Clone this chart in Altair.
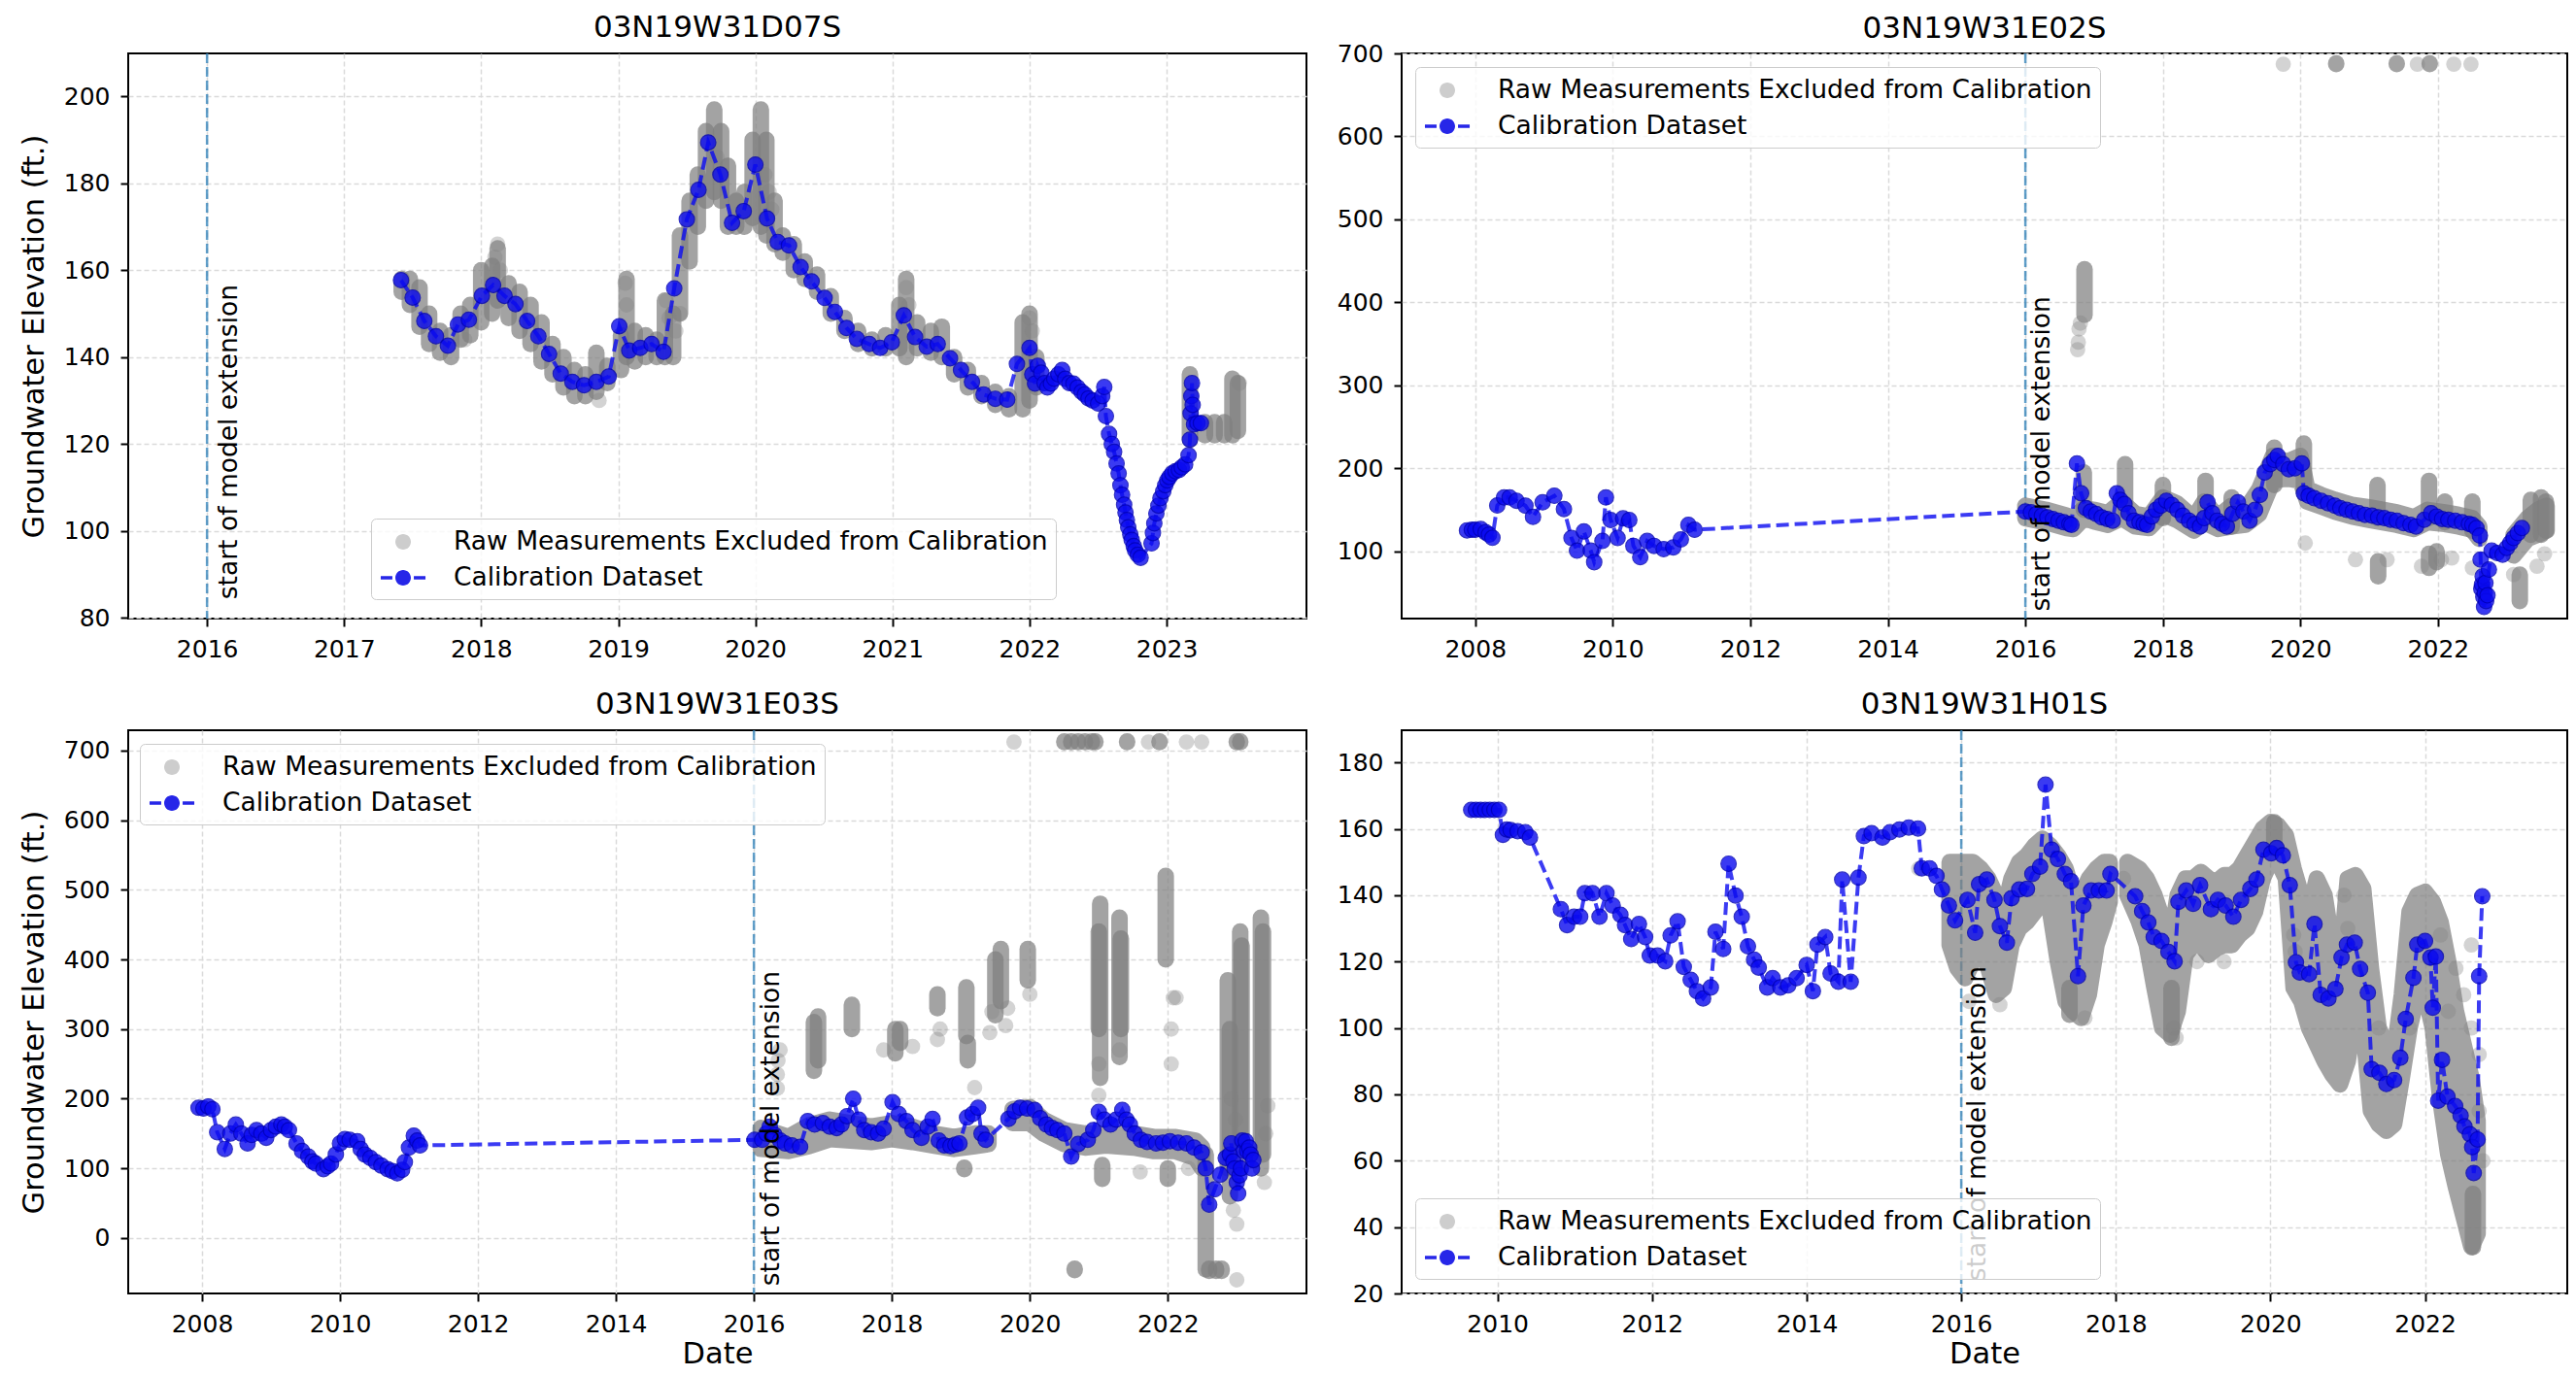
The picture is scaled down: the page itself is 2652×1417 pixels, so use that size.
import altair as alt
import pandas as pd

FONT = "DejaVu Sans"
RAW_LABEL = "Raw Measurements Excluded from Calibration"
CAL_LABEL = "Calibration Dataset"
EXT_TEXT = "start of model extension"
EXT_YEAR = 2016
Y_TITLE = "Groundwater Elevation (ft.)"
X_TITLE = "Date"
TITLES = ["03N19W31D07S", "03N19W31E02S", "03N19W31E03S", "03N19W31H01S"]

# ---------------- Panel 1 : 03N19W31D07S ----------------
P1_CAL = [
    (2017.415, 157.7), (2017.50, 153.7), (2017.585, 148.3), (2017.67, 144.8), (2017.757, 142.6),
    (2017.83, 147.5), (2017.91, 148.6), (2018.005, 154.1), (2018.087, 156.6), (2018.17, 154.1),
    (2018.25, 152.2), (2018.335, 148.3), (2018.417, 144.8), (2018.495, 140.7), (2018.58, 136.2),
    (2018.665, 134.3), (2018.75, 133.5), (2018.84, 134.3), (2018.93, 135.5), (2019.007, 147.1),
    (2019.08, 141.5), (2019.16, 142.1), (2019.243, 143.0), (2019.33, 141.2), (2019.408, 155.8),
    (2019.50, 171.7), (2019.585, 178.5), (2019.656, 189.4), (2019.745, 182.0), (2019.83, 170.9),
    (2019.915, 173.6), (2020.0, 184.3), (2020.085, 171.9), (2020.163, 166.5), (2020.245, 165.7),
    (2020.33, 160.7), (2020.41, 157.4), (2020.505, 153.6), (2020.58, 150.4), (2020.665, 146.7),
    (2020.74, 144.2), (2020.83, 143.0), (2020.91, 142.1), (2020.995, 143.4), (2021.083, 149.6),
    (2021.165, 144.6), (2021.25, 142.4), (2021.33, 143.0), (2021.42, 139.7), (2021.5, 137.0),
    (2021.58, 134.3), (2021.665, 131.4), (2021.75, 130.4), (2021.837, 130.2), (2021.908, 138.4),
    (2022.0, 142.1), (2022.02, 136.0), (2022.04, 133.9), (2022.06, 138.0), (2022.085, 136.4),
    (2022.11, 134.0), (2022.13, 133.0), (2022.156, 133.9), (2022.18, 135.0), (2022.21, 136.0),
    (2022.238, 137.0), (2022.26, 135.0), (2022.29, 134.0), (2022.32, 133.9), (2022.35, 133.0),
    (2022.38, 132.0), (2022.403, 131.4), (2022.43, 130.5), (2022.46, 130.0), (2022.5, 129.3),
    (2022.53, 131.0), (2022.545, 133.1), (2022.557, 126.4), (2022.58, 122.3), (2022.6, 120.0),
    (2022.617, 118.2), (2022.635, 115.5), (2022.65, 113.2), (2022.663, 110.5), (2022.675, 108.3),
    (2022.69, 106.0), (2022.7, 104.2), (2022.71, 102.5), (2022.72, 100.8), (2022.735, 99.2),
    (2022.745, 97.9), (2022.76, 96.5), (2022.77, 95.5), (2022.79, 94.5), (2022.81, 93.8),
    (2022.89, 97.1), (2022.9, 99.5), (2022.91, 101.7), (2022.925, 104.0), (2022.94, 105.8),
    (2022.955, 107.5), (2022.975, 109.1), (2022.99, 110.5), (2023.005, 111.6), (2023.02, 112.4),
    (2023.04, 113.2), (2023.065, 113.7), (2023.09, 114.0), (2023.11, 114.6), (2023.135, 115.3),
    (2023.16, 117.4), (2023.17, 121.0), (2023.175, 127.0), (2023.18, 131.0), (2023.185, 134.0),
    (2023.19, 129.0), (2023.2, 124.5), (2023.225, 124.8), (2023.25, 124.8),
]
P1_RAW_LIGHT = [
    (2018.12, 166), (2018.10, 163), (2018.14, 160), (2019.05, 157), (2019.06, 152), (2019.35, 153),
    (2019.37, 149), (2019.42, 146), (2019.72, 186), (2020.07, 182), (2020.10, 178), (2021.10, 156),
    (2021.12, 152), (2022.00, 149), (2022.02, 146), (2017.88, 144), (2018.86, 130), (2023.53, 134),
    (2019.45, 150), (2020.12, 174),
]
P1_RAW_BANDS = [
    (2017.42, 155, 158), (2017.48, 152, 158), (2017.55, 147, 156), (2017.62, 143, 150), (2017.70, 141, 146),
    (2017.78, 140, 145), (2017.85, 144, 150), (2017.92, 145, 152), (2018.00, 148, 160), (2018.08, 150, 161),
    (2018.12, 153, 165), (2018.20, 149, 157), (2018.28, 146, 155), (2018.36, 143, 152), (2018.44, 139, 148),
    (2018.52, 136, 143), (2018.60, 133, 140), (2018.68, 131, 137), (2018.76, 131, 136), (2018.84, 132, 141),
    (2018.92, 134, 138), (2019.02, 137, 145), (2019.06, 140, 158), (2019.12, 139, 146), (2019.20, 140, 145),
    (2019.28, 140, 144), (2019.34, 140, 153), (2019.40, 140, 150), (2019.45, 150, 168), (2019.52, 162, 176),
    (2019.58, 170, 182), (2019.64, 176, 192), (2019.70, 178, 197), (2019.75, 176, 192), (2019.80, 170, 184),
    (2019.86, 170, 176), (2019.92, 170, 178), (2019.98, 172, 190), (2020.04, 170, 197), (2020.08, 168, 190),
    (2020.14, 166, 176), (2020.20, 164, 168), (2020.28, 160, 166), (2020.36, 158, 162), (2020.45, 155, 159),
    (2020.55, 150, 154), (2020.65, 146, 149), (2020.75, 143, 146), (2020.85, 142, 144), (2020.95, 142, 145),
    (2021.05, 142, 152), (2021.10, 140, 158), (2021.18, 142, 148), (2021.28, 141, 146), (2021.36, 140, 147),
    (2021.45, 136, 140), (2021.55, 133, 137), (2021.65, 131, 134), (2021.75, 129, 132), (2021.85, 128, 131),
    (2021.95, 128, 148), (2022.00, 130, 150), (2022.05, 133, 140), (2023.17, 121, 136), (2023.28, 122, 125),
    (2023.35, 122, 125), (2023.42, 122, 125), (2023.48, 122, 135), (2023.52, 123, 134),
]
P1_RAW_CLOUD = []
P1_XDOM = [2015.425, 2024.02]
P1_YDOM = [79.8, 209.9]
P1_XTICKS = [2016, 2017, 2018, 2019, 2020, 2021, 2022, 2023]
P1_YTICKS = [80, 100, 120, 140, 160, 180, 200]
P1_TEXT_Y = 84

# ---------------- Panel 2 : 03N19W31E02S ----------------
P2_CAL = [
    (2007.88, 125.3), (2007.95, 126.0), (2008.0, 126.0), (2008.08, 126.8), (2008.15, 123.0),
    (2008.2, 120.2), (2008.25, 116.3), (2008.32, 155.3), (2008.42, 165.0), (2008.5, 165.0),
    (2008.6, 161.0), (2008.73, 155.0), (2008.84, 141.6), (2008.98, 159.0), (2009.15, 167.0),
    (2009.29, 151.0), (2009.4, 116.0), (2009.48, 100.8), (2009.58, 124.0), (2009.68, 100.8),
    (2009.73, 87.0), (2009.85, 112.5), (2009.9, 165.0), (2009.97, 137.7), (2010.07, 116.0),
    (2010.15, 139.7), (2010.24, 137.7), (2010.3, 106.6), (2010.4, 93.0), (2010.5, 112.5),
    (2010.6, 106.6), (2010.74, 102.7), (2010.88, 104.7), (2010.99, 114.4), (2011.1, 131.9),
    (2011.19, 126.0),
    (2016.0, 148), (2016.08, 147), (2016.16, 145), (2016.24, 143), (2016.32, 141), (2016.4, 139),
    (2016.48, 137), (2016.56, 135), (2016.64, 133), (2016.67, 132), (2016.75, 206), (2016.81, 170),
    (2016.88, 152), (2016.95, 148), (2017.03, 145), (2017.11, 141), (2017.19, 139), (2017.27, 137),
    (2017.33, 170), (2017.38, 162), (2017.44, 157), (2017.5, 146), (2017.58, 137), (2017.66, 135),
    (2017.72, 133), (2017.77, 132), (2017.84, 142), (2017.9, 150), (2017.97, 155), (2018.05, 161),
    (2018.13, 156), (2018.21, 150), (2018.29, 143), (2018.38, 137), (2018.46, 133), (2018.54, 130),
    (2018.6, 140), (2018.65, 159), (2018.72, 146), (2018.79, 137), (2018.86, 133), (2018.93, 130),
    (2019.01, 145), (2019.09, 159), (2019.17, 148), (2019.26, 137), (2019.34, 150), (2019.41, 168),
    (2019.48, 195), (2019.56, 205), (2019.62, 210), (2019.67, 215), (2019.75, 205), (2019.83, 199),
    (2019.92, 200), (2020.02, 206), (2020.05, 170), (2020.12, 167), (2020.2, 164), (2020.3, 161),
    (2020.4, 158), (2020.5, 155), (2020.58, 152), (2020.67, 150), (2020.76, 148), (2020.85, 146),
    (2020.94, 144), (2021.04, 143), (2021.13, 141), (2021.22, 140), (2021.31, 138), (2021.4, 137),
    (2021.5, 134), (2021.6, 132), (2021.68, 130), (2021.8, 138), (2021.9, 146), (2021.98, 142),
    (2022.06, 139), (2022.15, 138), (2022.25, 137), (2022.35, 135), (2022.45, 133), (2022.5, 132),
    (2022.56, 128), (2022.61, 119), (2022.62, 90), (2022.63, 55), (2022.64, 60), (2022.65, 70),
    (2022.66, 45), (2022.67, 33), (2022.68, 50), (2022.69, 62), (2022.7, 40), (2022.72, 47),
    (2022.74, 78), (2022.78, 101), (2022.86, 98), (2022.94, 96), (2023.0, 104), (2023.05, 110),
    (2023.1, 116), (2023.16, 122), (2023.22, 128),
]
P2_RAW_LIGHT = [
    (2019.75, 687), (2021.70, 687), (2022.23, 687), (2022.48, 687), (2020.07, 110), (2020.80, 90),
    (2021.26, 90), (2022.20, 92), (2022.50, 80), (2023.10, 72), (2023.44, 82), (2023.55, 97),
    (2016.76, 343), (2016.77, 352), (2016.78, 368), (2016.80, 375), (2021.76, 82), (2022.05, 90),
]
P2_RAW_BANDS = [
    (2016.86, 385, 440), (2016.85, 150, 195), (2017.45, 150, 205), (2018.00, 140, 180), (2018.62, 140, 185),
    (2019.00, 130, 165), (2019.62, 180, 225), (2020.05, 175, 230), (2021.12, 140, 180), (2021.87, 140, 185),
    (2022.10, 135, 160), (2022.50, 125, 160), (2023.35, 120, 162), (2023.50, 120, 165), (2023.57, 125, 160),
    (2021.13, 70, 88), (2021.87, 80, 97), (2021.98, 87, 100), (2023.19, 40, 72),
    (2020.52, 687, 688), (2021.40, 687, 688), (2021.88, 687, 688),
]
P2_RAW_CLOUD = [
    (0, 2016.00, 140, 155), (0, 2016.30, 135, 150), (0, 2016.60, 128, 143), (0, 2016.70, 127, 140),
    (0, 2016.85, 140, 152), (0, 2017.00, 136, 150), (0, 2017.20, 132, 146), (0, 2017.40, 140, 160),
    (0, 2017.60, 130, 145), (0, 2017.80, 128, 142), (0, 2018.00, 145, 165), (0, 2018.20, 138, 158),
    (0, 2018.45, 125, 140), (0, 2018.60, 135, 160), (0, 2018.80, 127, 142), (0, 2019.00, 130, 155),
    (0, 2019.20, 132, 150), (0, 2019.40, 145, 175), (0, 2019.60, 185, 215), (0, 2019.80, 188, 208),
    (0, 2020.00, 185, 215), (0, 2020.10, 160, 175), (0, 2020.30, 154, 168), (0, 2020.50, 148, 162),
    (0, 2020.75, 142, 156), (0, 2021.00, 138, 153), (0, 2021.40, 132, 147), (0, 2021.65, 127, 141),
    (0, 2021.85, 135, 150), (0, 2022.10, 133, 147), (0, 2022.30, 130, 144), (0, 2022.50, 126, 140),
    (0, 2022.60, 115, 130),
    (1, 2023.10, 95, 120), (1, 2023.30, 115, 140), (1, 2023.45, 120, 150), (1, 2023.58, 125, 155),
]
P2_XDOM = [2006.93, 2023.88]
P2_YDOM = [19, 700]
P2_XTICKS = [2008, 2010, 2012, 2014, 2016, 2018, 2020, 2022]
P2_YTICKS = [100, 200, 300, 400, 500, 600, 700]
P2_TEXT_Y = 22

# ---------------- Panel 3 : 03N19W31E03S ----------------
P3_CAL = [
    (2007.95, 187), (2008.02, 186), (2008.09, 189), (2008.15, 185), (2008.22, 152), (2008.33, 128),
    (2008.41, 150), (2008.49, 163), (2008.57, 150), (2008.66, 136), (2008.72, 148), (2008.79, 155),
    (2008.86, 150), (2008.93, 144), (2009.0, 155), (2009.07, 160), (2009.15, 163), (2009.2, 160),
    (2009.26, 155), (2009.37, 136), (2009.45, 125), (2009.54, 117), (2009.6, 110), (2009.65, 107),
    (2009.76, 99), (2009.82, 103), (2009.87, 107), (2009.94, 120), (2010.0, 136), (2010.07, 142),
    (2010.14, 141), (2010.25, 139), (2010.3, 128), (2010.36, 120), (2010.44, 115), (2010.52, 109),
    (2010.6, 104), (2010.69, 99), (2010.76, 96), (2010.83, 93), (2010.9, 98), (2010.94, 109),
    (2011.0, 130), (2011.07, 147), (2011.12, 140), (2011.16, 133),
    (2016.01, 141), (2016.12, 141), (2016.18, 150), (2016.23, 160), (2016.3, 148), (2016.38, 140),
    (2016.45, 136), (2016.55, 133), (2016.67, 131), (2016.78, 168), (2016.88, 163), (2017.0, 165),
    (2017.1, 160), (2017.2, 158), (2017.27, 163), (2017.35, 175), (2017.44, 200), (2017.52, 170),
    (2017.6, 155), (2017.7, 152), (2017.8, 150), (2017.88, 157), (2018.01, 195), (2018.1, 178),
    (2018.21, 168), (2018.3, 155), (2018.43, 144), (2018.52, 160), (2018.59, 171), (2018.68, 140),
    (2018.76, 133), (2018.85, 132), (2018.92, 134), (2018.98, 136), (2019.09, 173), (2019.17, 178),
    (2019.25, 187), (2019.3, 150), (2019.36, 141), (2019.69, 171), (2019.78, 182), (2019.86, 187),
    (2019.96, 186), (2020.07, 184), (2020.15, 172), (2020.24, 163), (2020.32, 158), (2020.4, 155),
    (2020.5, 150), (2020.6, 117), (2020.7, 135), (2020.84, 141), (2020.92, 155), (2021.0, 181),
    (2021.08, 170), (2021.17, 163), (2021.25, 170), (2021.34, 184), (2021.4, 170), (2021.45, 163),
    (2021.52, 150), (2021.61, 141), (2021.7, 138), (2021.83, 136), (2021.93, 137), (2022.03, 139),
    (2022.15, 137), (2022.27, 136), (2022.38, 130), (2022.49, 123), (2022.55, 100), (2022.6, 48),
    (2022.68, 70), (2022.76, 91), (2022.84, 115), (2022.9, 120), (2022.92, 136), (2022.95, 110),
    (2022.97, 100), (2023.0, 80), (2023.02, 64), (2023.04, 90), (2023.06, 100), (2023.08, 140),
    (2023.1, 125), (2023.13, 139), (2023.15, 125), (2023.18, 130), (2023.2, 120), (2023.22, 100),
    (2023.24, 112),
]
P3_RAW_LIGHT = [
    (2019.77, 712), (2021.72, 712), (2022.27, 712), (2022.49, 712), (2016.34, 215), (2016.34, 235),
    (2016.35, 255), (2016.38, 270), (2017.88, 270), (2018.30, 275), (2018.66, 285), (2018.70, 300),
    (2019.42, 295), (2019.45, 325), (2019.65, 305), (2019.68, 330), (2020.00, 350), (2021.00, 205),
    (2021.00, 250), (2021.30, 270), (2022.05, 250), (2022.05, 300), (2022.08, 345), (2019.20, 216),
    (2021.60, 95), (2022.30, 100), (2023.00, -60), (2023.40, 80), (2023.42, 150), (2023.45, 190),
    (2022.98, 170), (2022.92, 200), (2023.00, 20), (2022.95, 40), (2020.62, 120), (2022.12, 345),
]
P3_RAW_BANDS = [
    (2016.87, 240, 310), (2016.93, 255, 318), (2017.42, 300, 335), (2018.05, 265, 300), (2018.12, 280, 300),
    (2018.66, 330, 350), (2019.08, 290, 360), (2019.10, 255, 280), (2019.50, 320, 400), (2019.58, 340, 415),
    (2019.97, 370, 415), (2021.00, 300, 440), (2021.02, 230, 480), (2021.30, 260, 460), (2021.32, 300, 430),
    (2021.97, 400, 520), (2022.55, -45, 120), (2022.60, -47, -44), (2022.70, -47, -44), (2022.78, -47, -44),
    (2022.87, 100, 370), (2022.90, 60, 300), (2023.05, 100, 440), (2023.07, 150, 420), (2023.35, 100, 460),
    (2023.38, 120, 440), (2020.65, -46, -44), (2019.05, 99, 101), (2021.05, 85, 105), (2022.00, 85, 100),
    (2020.50, 712, 713), (2020.60, 712, 713), (2020.70, 712, 713), (2020.80, 712, 713), (2020.90, 712, 713),
    (2020.95, 712, 713), (2021.41, 712, 713), (2021.88, 712, 713), (2023.00, 712, 713), (2023.05, 712, 713),
]
P3_RAW_CLOUD = [
    (0, 2016.10, 128, 158), (0, 2016.50, 125, 145), (0, 2016.80, 132, 162), (0, 2017.10, 142, 170),
    (0, 2017.40, 140, 165), (0, 2017.70, 138, 160), (0, 2018.00, 142, 165), (0, 2018.30, 138, 160),
    (0, 2018.60, 133, 150), (0, 2018.90, 128, 145), (0, 2019.20, 132, 150), (0, 2019.40, 135, 150),
    (1, 2019.75, 165, 185), (1, 2020.00, 165, 188), (1, 2020.20, 150, 170), (1, 2020.50, 135, 155),
    (1, 2020.80, 130, 150), (1, 2021.10, 133, 150), (1, 2021.50, 130, 150), (1, 2021.80, 125, 145),
    (1, 2022.10, 125, 145), (1, 2022.40, 115, 140), (1, 2022.50, 100, 130),
]
P3_XDOM = [2006.93, 2024.01]
P3_YDOM = [-79.5, 729]
P3_XTICKS = [2008, 2010, 2012, 2014, 2016, 2018, 2020, 2022]
P3_YTICKS = [0, 100, 200, 300, 400, 500, 600, 700]
P3_TEXT_Y = -77

# ---------------- Panel 4 : 03N19W31H01S ----------------
P4_CAL = [
    (2009.66, 165.7), (2009.72, 165.7), (2009.78, 165.7), (2009.84, 165.7), (2009.9, 165.7),
    (2009.96, 165.7), (2010.02, 165.7), (2010.07, 158.2), (2010.12, 159.8), (2010.17, 159.6),
    (2010.26, 159.3), (2010.36, 159.0), (2010.42, 157.4), (2010.82, 135.8), (2010.9, 131.0),
    (2010.99, 133.5), (2011.07, 133.5), (2011.13, 140.6), (2011.23, 140.6), (2011.32, 133.5),
    (2011.41, 140.6), (2011.49, 136.9), (2011.59, 134.1), (2011.65, 131.0), (2011.73, 126.8),
    (2011.83, 131.3), (2011.91, 127.4), (2011.97, 121.8), (2012.07, 121.8), (2012.17, 120.1),
    (2012.24, 127.9), (2012.33, 132.1), (2012.41, 118.4), (2012.5, 114.5), (2012.58, 111.1),
    (2012.66, 108.9), (2012.76, 112.2), (2012.82, 129.0), (2012.92, 123.8), (2012.99, 149.5),
    (2013.08, 139.9), (2013.16, 133.5), (2013.24, 124.6), (2013.32, 120.6), (2013.38, 118.2),
    (2013.49, 112.2), (2013.56, 115.0), (2013.66, 112.2), (2013.76, 112.8), (2013.87, 115.0),
    (2014.0, 119.0), (2014.08, 111.1), (2014.14, 125.1), (2014.24, 127.4), (2014.31, 116.4),
    (2014.41, 113.9), (2014.46, 144.7), (2014.57, 113.9), (2014.67, 145.3), (2014.74, 157.8),
    (2014.84, 158.7), (2014.98, 157.4), (2015.08, 159.0), (2015.2, 159.8), (2015.32, 160.4),
    (2015.44, 160.1), (2015.49, 148.1), (2015.59, 148.1), (2015.68, 145.8), (2015.75, 141.7),
    (2015.84, 136.9), (2015.92, 132.4), (2016.08, 138.6), (2016.18, 128.7), (2016.23, 143.3),
    (2016.33, 144.7), (2016.43, 138.6), (2016.5, 130.7), (2016.59, 125.7), (2016.65, 139.1),
    (2016.75, 141.7), (2016.85, 141.9), (2016.92, 146.4), (2017.02, 148.6), (2017.09, 173.3),
    (2017.17, 153.7), (2017.25, 150.9), (2017.34, 146.4), (2017.42, 144.2), (2017.51, 115.6),
    (2017.58, 136.9), (2017.68, 141.4), (2017.78, 141.4), (2017.88, 141.4), (2017.93, 146.4),
    (2018.25, 139.7), (2018.34, 135.2), (2018.42, 131.8), (2018.49, 127.4), (2018.59, 126.2),
    (2018.68, 122.9), (2018.76, 120.1), (2018.81, 138.0), (2018.91, 141.4), (2019.0, 137.4),
    (2019.09, 143.0), (2019.23, 135.8), (2019.32, 138.6), (2019.42, 136.9), (2019.52, 133.5),
    (2019.62, 138.6), (2019.74, 141.9), (2019.82, 144.7), (2019.91, 153.7), (2020.01, 152.6),
    (2020.08, 154.2), (2020.16, 152.0), (2020.25, 143.0), (2020.33, 119.8), (2020.38, 116.7),
    (2020.5, 116.2), (2020.57, 131.3), (2020.65, 110.0), (2020.75, 108.9), (2020.84, 111.7),
    (2020.92, 121.2), (2020.99, 125.1), (2021.09, 125.7), (2021.16, 117.8), (2021.26, 110.6),
    (2021.31, 87.6), (2021.41, 86.5), (2021.5, 83.1), (2021.6, 84.3), (2021.68, 91.0),
    (2021.75, 102.7), (2021.85, 115.1), (2021.9, 125.1), (2022.0, 126.2), (2022.07, 121.2),
    (2022.1, 106.1), (2022.14, 121.5), (2022.17, 78.1), (2022.22, 90.4), (2022.29, 79.3),
    (2022.39, 76.5), (2022.46, 73.6), (2022.51, 70.3), (2022.58, 68.0), (2022.61, 64.1),
    (2022.63, 56.3), (2022.68, 66.4), (2022.7, 115.6), (2022.74, 139.7),
]
P4_RAW_LIGHT = [
    (2015.45, 148), (2016.10, 108), (2018.75, 100), (2018.78, 97), (2020.30, 128), (2020.32, 123),
    (2021.00, 130), (2021.80, 100), (2022.30, 105), (2022.50, 110), (2022.60, 100), (2022.70, 92),
    (2022.70, 75), (2022.60, 125), (2022.75, 60), (2016.50, 107), (2017.60, 103), (2019.40, 120),
    (2020.95, 140), (2021.40, 100), (2022.20, 128), (2022.40, 118), (2019.05, 120), (2018.10, 145),
]
P4_RAW_BANDS = [
    (2018.72, 97, 112), (2020.05, 154, 162), (2017.40, 104, 112), (2022.62, 34, 50),
]
P4_RAW_CLOUD = [
    (0, 2015.85, 125, 150), (0, 2015.95, 118, 150), (0, 2016.05, 115, 150), (0, 2016.15, 120, 150),
    (0, 2016.25, 125, 148), (0, 2016.35, 118, 145), (0, 2016.45, 110, 140), (0, 2016.55, 112, 135),
    (0, 2016.65, 125, 145), (0, 2016.75, 130, 150), (0, 2016.85, 132, 152), (0, 2016.95, 135, 155),
    (0, 2017.05, 138, 157), (0, 2017.15, 135, 155), (0, 2017.25, 120, 152), (0, 2017.35, 108, 148),
    (0, 2017.45, 105, 140), (0, 2017.55, 103, 140), (0, 2017.65, 110, 145), (0, 2017.75, 125, 148),
    (0, 2017.85, 132, 150), (0, 2017.92, 138, 150),
    (1, 2018.15, 140, 150), (1, 2018.30, 132, 148), (1, 2018.40, 125, 145), (1, 2018.50, 112, 140),
    (1, 2018.60, 100, 133), (1, 2018.70, 98, 125), (1, 2018.80, 105, 140), (1, 2018.90, 122, 145),
    (1, 2019.00, 125, 145), (1, 2019.10, 125, 147), (1, 2019.20, 122, 145), (1, 2019.30, 124, 144),
    (1, 2019.40, 125, 146), (1, 2019.50, 125, 146), (1, 2019.60, 128, 148), (1, 2019.70, 130, 152),
    (1, 2019.80, 135, 156), (1, 2019.90, 145, 160), (1, 2020.00, 150, 162), (1, 2020.10, 150, 161),
    (1, 2020.20, 145, 158), (1, 2020.30, 112, 148), (1, 2020.40, 108, 140), (1, 2020.50, 100, 135),
    (1, 2020.60, 95, 145), (1, 2020.70, 90, 140), (1, 2020.80, 86, 125), (1, 2020.90, 83, 118),
    (1, 2021.00, 90, 145), (1, 2021.10, 105, 146), (1, 2021.20, 100, 142), (1, 2021.30, 75, 118),
    (1, 2021.40, 71, 100), (1, 2021.50, 69, 95), (1, 2021.60, 71, 92), (1, 2021.70, 85, 110),
    (1, 2021.80, 100, 135), (1, 2021.90, 110, 140), (1, 2022.00, 110, 141), (1, 2022.10, 100, 138),
    (1, 2022.20, 78, 132), (1, 2022.30, 62, 120), (1, 2022.40, 52, 105), (1, 2022.50, 43, 95),
    (1, 2022.60, 34, 85), (1, 2022.68, 38, 72),
]
P4_XDOM = [2008.76, 2023.84]
P4_YDOM = [20, 189.7]
P4_XTICKS = [2010, 2012, 2014, 2016, 2018, 2020, 2022]
P4_YTICKS = [20, 40, 60, 80, 100, 120, 140, 160, 180]
P4_TEXT_Y = 22

# ---------------- styling ----------------
BLUE = "#0a0af0"
GRAY = "#808080"
EXT_COLOR = "#1f77b4"
CIRCLE_PATH = "M-0.5,0A0.5,0.5,0,1,1,0.5,0A0.5,0.5,0,1,1,-0.5,0Z"
LINE_PATH = ("M-1.44,-0.11L-0.69,-0.11L-0.69,0.11L-1.44,0.11Z "
             "M0.69,-0.11L1.44,-0.11L1.44,0.11L0.69,0.11Z "
             "M-0.5,0A0.5,0.5,0,1,1,0.5,0A0.5,0.5,0,1,1,-0.5,0Z")


def make_panel(title, cal, raw_light, bands, cloud, xdom, ydom, xticks, yticks, text_y, text_dx,
               text_dy, title_dy, leg_x, leg_y, show_ytitle, show_xtitle, width, height):
    xs = alt.Scale(domain=xdom, nice=False, zero=False)
    ys = alt.Scale(domain=ydom, nice=False, zero=False)
    xax = alt.Axis(values=xticks, format="d", labelFlush=False, titlePadding=3)
    yax = alt.Axis(values=yticks, format="d", labelFlush=False, titlePadding=15)
    xt = X_TITLE if show_xtitle else None
    yt = Y_TITLE if show_ytitle else None

    def X(f):
        return alt.X(f, type="quantitative", scale=xs, axis=xax, title=xt)

    def Y(f):
        return alt.Y(f, type="quantitative", scale=ys, axis=yax, title=yt)

    cal_df = pd.DataFrame(cal, columns=["x", "y"])
    raw_df = pd.DataFrame(raw_light, columns=["x", "y"])
    band_df = pd.DataFrame(bands, columns=["x", "lo", "hi"])
    cloud_df = pd.DataFrame(cloud, columns=["seg", "x", "lo", "hi"])
    ext_df = pd.DataFrame({"x": [EXT_YEAR], "y": [text_y], "t": [EXT_TEXT]})
    leg_df = pd.DataFrame({"s": [RAW_LABEL, CAL_LABEL],
                           "x": [xdom[0] - 100, xdom[0] - 100],
                           "y": [ydom[0] - 10000, ydom[0] - 10000]})

    layers = []
    layers.append(alt.Chart(ext_df).mark_rule(
        color=EXT_COLOR, opacity=0.7, strokeWidth=2.5, strokeDash=[10, 4]
    ).encode(x=X("x")))

    if len(cloud_df):
        layers.append(alt.Chart(cloud_df).mark_area(
            color=GRAY, stroke=GRAY, strokeWidth=17, strokeJoin="round", strokeCap="round",
            opacity=0.72, clip=True
        ).encode(x=X("x"), y=Y("lo"), y2="hi", detail="seg:N"))

    layers.append(alt.Chart(band_df).mark_rule(
        color=GRAY, opacity=0.72, strokeWidth=17, strokeCap="round", clip=True
    ).encode(x=X("x"), y=Y("lo"), y2="hi"))

    layers.append(alt.Chart(raw_df).mark_circle(
        color=GRAY, opacity=0.35, size=250, clip=True
    ).encode(x=X("x"), y=Y("y")))

    layers.append(alt.Chart(cal_df).mark_line(
        color=BLUE, opacity=0.8, strokeWidth=4, strokeDash=[13, 6], clip=True
    ).encode(x=X("x"), y=Y("y")))

    layers.append(alt.Chart(cal_df).mark_circle(
        color=BLUE, opacity=0.8, size=250, stroke="#0000b4", strokeWidth=1.2, clip=True
    ).encode(x=X("x"), y=Y("y")))

    layers.append(alt.Chart(ext_df).mark_text(
        angle=270, align="left", baseline="top", fontSize=26.5, font=FONT,
        color="black", dx=text_dx, dy=text_dy
    ).encode(x=X("x"), y=Y("y"), text="t:N"))

    leg = alt.Legend(
        title=None, orient="none", legendX=leg_x, legendY=leg_y,
        labelFontSize=26.5, labelFont=FONT, labelColor="black", labelLimit=2000,
        symbolSize=1024, symbolStrokeWidth=0, symbolOpacity=1,
        padding=8, rowPadding=7, symbolOffset=9, labelOffset=36,
        fillColor="rgba(255,255,255,0.8)", strokeColor="#cccccc", cornerRadius=5,
    )
    dom = [RAW_LABEL, CAL_LABEL]
    layers.append(alt.Chart(leg_df).mark_point(
        filled=True, opacity=1, size=1024, clip=True
    ).encode(
        x=X("x"), y=Y("y"),
        color=alt.Color("s:N", scale=alt.Scale(domain=dom, range=["#cdcdcd", "#2626e8"]), legend=leg),
        shape=alt.Shape("s:N", scale=alt.Scale(domain=dom, range=[CIRCLE_PATH, LINE_PATH]), legend=leg),
    ))

    return alt.layer(*layers).properties(
        width=width, height=height,
        title=alt.TitleParams(text=title, fontSize=31, font=FONT, fontWeight="normal",
                              color="black", anchor="middle", offset=9, frame="group", dy=title_dy),
    )


p1 = make_panel(TITLES[0], P1_CAL, P1_RAW_LIGHT, P1_RAW_BANDS, P1_RAW_CLOUD, P1_XDOM, P1_YDOM,
                P1_XTICKS, P1_YTICKS, P1_TEXT_Y, 1, 10, 0, 250, 479, True, False, 1213, 582)
p2 = make_panel(TITLES[1], P2_CAL, P2_RAW_LIGHT, P2_RAW_BANDS, P2_RAW_CLOUD, P2_XDOM, P2_YDOM,
                P2_XTICKS, P2_YTICKS, P2_TEXT_Y, 5, 4, 12, 14, 14, False, False, 1200, 582)
p3 = make_panel(TITLES[2], P3_CAL, P3_RAW_LIGHT, P3_RAW_BANDS, P3_RAW_CLOUD, P3_XDOM, P3_YDOM,
                P3_XTICKS, P3_YTICKS, P3_TEXT_Y, 6, 5, 0, 12, 14, True, True, 1213, 580)
p4 = make_panel(TITLES[3], P4_CAL, P4_RAW_LIGHT, P4_RAW_BANDS, P4_RAW_CLOUD, P4_XDOM, P4_YDOM,
                P4_XTICKS, P4_YTICKS, P4_TEXT_Y, 6, 4, 0, 14, 482, False, True, 1200, 580)

chart = alt.concat(p1, p2, p3, p4, columns=2, spacing={"row": 26, "column": 29}).resolve_scale(
    x="independent", y="independent", color="independent", shape="independent"
).resolve_legend(color="independent", shape="independent").properties(
    padding={"left": 11, "top": 3, "right": 0, "bottom": 0}
).configure_view(
    stroke="black", strokeWidth=2
).configure_axis(
    domain=False, grid=True, gridColor="#dadada", gridDash=[5, 3], gridWidth=1.5,
    tickColor="black", tickSize=8, tickWidth=2, labelFontSize=25, labelFont=FONT,
    labelColor="black", labelPadding=11, titleFont=FONT, titleFontSize=30.5,
    titleFontWeight="normal", titleColor="black"
)

chart.save("out.html", embed_options={"renderer": "svg", "actions": False})
